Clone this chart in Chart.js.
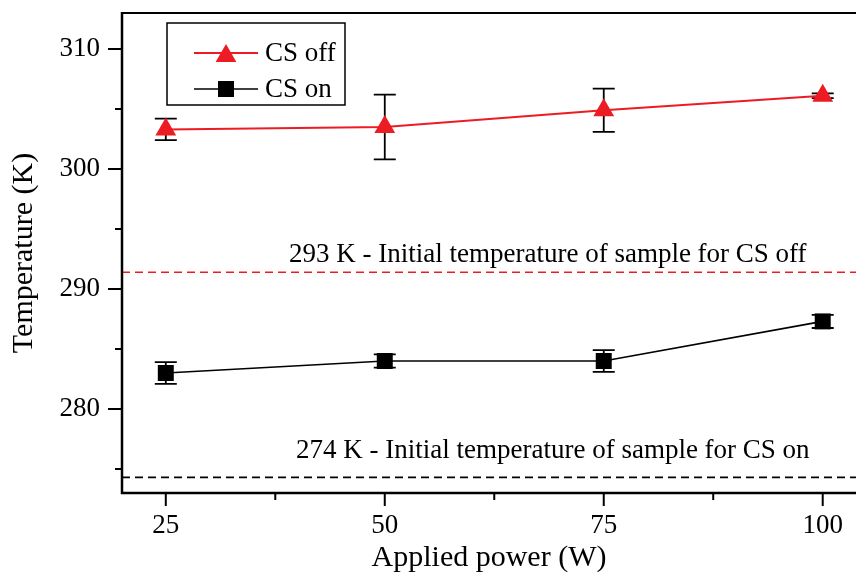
<!DOCTYPE html>
<html>
<head>
<meta charset="utf-8">
<script src="https://cdn.jsdelivr.net/npm/chart.js@4.4.1/dist/chart.umd.min.js"></script>
<style>
  html, body { margin: 0; padding: 0; background: #fff; }
  #wrap { width: 856px; height: 581px; }
</style>
</head>
<body>
<div id="wrap"><canvas id="chart"></canvas></div>
<script>
// values
const power = [25, 50, 75, 100];
const csOff = [303.3, 303.5, 304.9, 306.1];
const csOffErr = [0.9, 2.7, 1.8, 0.2];
const csOn = [283.0, 284.0, 284.0, 287.3];
const csOnErr = [0.9, 0.55, 0.9, 0.55];

const xTicks = [25, 50, 75, 100];
const xMinor = [37.5, 62.5, 87.5];
const yTicks = [280, 290, 300, 310];
const yMinor = [275, 285, 295, 305];

const refOff = 291.4;
const refOn = 274.3;
const refOffLabel = '293 K - Initial temperature of sample for CS off';
const refOnLabel = '274 K - Initial temperature of sample for CS on';

const RED = '#ed1c24';
const FONT = '"Liberation Serif", "Times New Roman", serif';

function drawMarker(ctx, style, r, color, x, y) {
    if (Chart.helpers && Chart.helpers.drawPoint) {
        ctx.fillStyle = color;
        ctx.strokeStyle = color;
        Chart.helpers.drawPoint(ctx, {pointStyle: style, radius: r, borderWidth: 0, rotation: 0}, x, y);
    }
}

// error bars, dashed reference lines, frame, ticks and the boxed legend
const decor = {
    id: 'decor',
    beforeDatasetsDraw(chart) {
        const {ctx, chartArea: a, scales: {x, y}} = chart;
        ctx.save();
        ctx.lineWidth = 1.6;
        ctx.setLineDash([8, 5]);
        [[refOff, RED], [refOn, '#000']].forEach(([v, c]) => {
            const py = y.getPixelForValue(v);
            ctx.strokeStyle = c;
            ctx.beginPath();
            ctx.moveTo(a.left, py);
            ctx.lineTo(a.right, py);
            ctx.stroke();
        });
        ctx.setLineDash([]);

        ctx.fillStyle = '#000';
        ctx.font = '27px ' + FONT;
        ctx.textBaseline = 'alphabetic';
        ctx.textAlign = 'left';
        ctx.fillText(refOffLabel, a.left + 167, y.getPixelForValue(refOff) - 10);
        ctx.fillText(refOnLabel, a.left + 174, y.getPixelForValue(refOn) - 19);

        ctx.strokeStyle = '#000';
        ctx.lineWidth = 1.8;
        [[csOff, csOffErr], [csOn, csOnErr]].forEach(([vals, errs]) => {
            vals.forEach((v, i) => {
                const px = x.getPixelForValue(power[i]);
                const top = y.getPixelForValue(v + errs[i]);
                const bot = y.getPixelForValue(v - errs[i]);
                ctx.beginPath();
                ctx.moveTo(px, top); ctx.lineTo(px, bot);
                ctx.moveTo(px - 11, top); ctx.lineTo(px + 11, top);
                ctx.moveTo(px - 11, bot); ctx.lineTo(px + 11, bot);
                ctx.stroke();
            });
        });
        ctx.restore();
    },
    afterDraw(chart) {
        const {ctx, chartArea: a, scales: {x, y}} = chart;
        ctx.save();
        ctx.strokeStyle = '#000';

        // frame (right side falls outside the picture)
        ctx.lineWidth = 2;
        ctx.beginPath();
        ctx.moveTo(a.left, a.top);
        ctx.lineTo(a.right, a.top);
        ctx.stroke();
        ctx.lineWidth = 2.5;
        ctx.beginPath();
        ctx.moveTo(a.left, a.top - 1);
        ctx.lineTo(a.left, a.bottom);
        ctx.lineTo(a.right, a.bottom);
        ctx.stroke();

        // ticks
        ctx.lineWidth = 2;
        ctx.beginPath();
        yTicks.forEach(v => { const py = y.getPixelForValue(v); ctx.moveTo(a.left - 14, py); ctx.lineTo(a.left, py); });
        yMinor.forEach(v => { const py = y.getPixelForValue(v); ctx.moveTo(a.left - 7, py); ctx.lineTo(a.left, py); });
        xTicks.forEach(v => { const px = x.getPixelForValue(v); ctx.moveTo(px, a.bottom); ctx.lineTo(px, a.bottom + 13); });
        xMinor.forEach(v => { const px = x.getPixelForValue(v); ctx.moveTo(px, a.bottom); ctx.lineTo(px, a.bottom + 7); });
        ctx.stroke();

        // legend
        const lx = a.left + 45, ly = a.top + 10;
        ctx.lineWidth = 1.5;
        ctx.strokeRect(lx, ly, 178, 82);
        chart.data.datasets.forEach((ds, i) => {
            const cy = ly + 30 + i * 36;
            ctx.strokeStyle = ds.borderColor;
            ctx.lineWidth = ds.borderWidth;
            ctx.beginPath();
            ctx.moveTo(lx + 27, cy);
            ctx.lineTo(lx + 91, cy);
            ctx.stroke();
            drawMarker(ctx, ds.pointStyle, ds.pointRadius, ds.backgroundColor, lx + 59, cy + (ds.pointStyle === 'triangle' ? 3 : 0));
            ctx.fillStyle = '#000';
            ctx.font = '27px ' + FONT;
            ctx.textAlign = 'left';
            ctx.textBaseline = 'middle';
            ctx.fillText(ds.label, lx + 98, cy + 1);
        });
        ctx.restore();
    }
};

new Chart(document.getElementById('chart'), {
    type: 'line',
    data: {
        datasets: [
            {
                label: 'CS off',
                data: power.map((p, i) => ({x: p, y: csOff[i]})),
                borderColor: RED,
                backgroundColor: RED,
                borderWidth: 2,
                pointStyle: 'triangle',
                pointRadius: 12,
                pointBorderWidth: 0,
                tension: 0
            },
            {
                label: 'CS on',
                data: power.map((p, i) => ({x: p, y: csOn[i]})),
                borderColor: '#000',
                backgroundColor: '#000',
                borderWidth: 1.6,
                pointStyle: 'rect',
                pointRadius: 11.3,
                pointBorderWidth: 0,
                tension: 0
            }
        ]
    },
    options: {
        responsive: true,
        maintainAspectRatio: false,
        animation: false,
        layout: {autoPadding: false, padding: {top: 13, left: 0, right: 0, bottom: 0}},
        plugins: {legend: {display: false}, tooltip: {enabled: false}},
        scales: {
            x: {
                type: 'linear',
                min: 20,
                max: 103.8,
                grid: {display: false, drawTicks: false},
                border: {display: false},
                ticks: {color: '#000', font: {family: FONT, size: 27}, padding: 17, autoSkip: false, maxRotation: 0},
                afterBuildTicks: s => { s.ticks = xTicks.map(v => ({value: v})); },
                afterFit: s => { s.height = 88; s.paddingLeft = 0; s.paddingRight = 0; },
                title: {display: true, text: 'Applied power (W)', color: '#000', font: {family: FONT, size: 30}, padding: {top: 0, bottom: 5}}
            },
            y: {
                min: 273,
                max: 313,
                grid: {display: false, drawTicks: false},
                border: {display: false},
                ticks: {color: '#000', font: {family: FONT, size: 27}, padding: 22, autoSkip: false},
                afterBuildTicks: s => { s.ticks = yTicks.map(v => ({value: v})); },
                afterFit: s => { s.width = 122; s.paddingTop = 0; s.paddingBottom = 0; },
                title: {display: true, text: 'Temperature (K)', color: '#000', font: {family: FONT, size: 30}, padding: {top: 6, bottom: 0}}
            }
        }
    },
    plugins: [decor]
});
</script>
</body>
</html>
